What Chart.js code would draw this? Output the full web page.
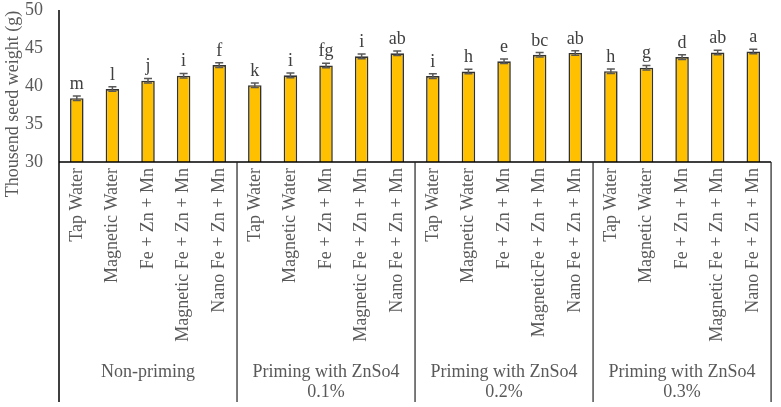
<!DOCTYPE html>
<html>
<head>
<meta charset="utf-8">
<script src="https://cdn.jsdelivr.net/npm/chart.js@4"></script>
<style>
  html, body { margin: 0; padding: 0; background: #fff; }
  #wrap { width: 781px; height: 407px; }
</style>
</head>
<body>
<div id="wrap"><canvas id="seedChart" width="781" height="407"></canvas></div>
<script>
const treatments = [
  'Tap Water', 'Magnetic Water', 'Fe + Zn + Mn', 'Magnetic Fe + Zn + Mn', 'Nano Fe + Zn + Mn',
  'Tap Water', 'Magnetic Water', 'Fe + Zn + Mn', 'Magnetic Fe + Zn + Mn', 'Nano Fe + Zn + Mn',
  'Tap Water', 'Magnetic Water', 'Fe + Zn + Mn', 'MagneticFe + Zn + Mn', 'Nano Fe + Zn + Mn',
  'Tap Water', 'Magnetic Water', 'Fe + Zn + Mn', 'Magnetic Fe + Zn + Mn', 'Nano Fe + Zn + Mn'
];
const groups = [
  ['Non-priming'],
  ['Priming with ZnSo4', '0.1%'],
  ['Priming with ZnSo4', '0.2%'],
  ['Priming with ZnSo4', '0.3%']
];
const groupSize = 5;
const seedWeight = [
  38.4, 39.6, 40.7, 41.35, 42.75,
  40.1, 41.4, 42.7, 43.9, 44.3,
  41.3, 41.9, 43.25, 44.1, 44.35,
  41.95, 42.4, 43.8, 44.4, 44.55
];
const errors = [
  0.3, 0.3, 0.3, 0.3, 0.3,
  0.3, 0.3, 0.3, 0.3, 0.3,
  0.3, 0.3, 0.3, 0.3, 0.3,
  0.3, 0.3, 0.3, 0.3, 0.3
];
const letters = [
  'm', 'l', 'j', 'i', 'f',
  'k', 'i', 'fg', 'i', 'ab',
  'i', 'h', 'e', 'bc', 'ab',
  'h', 'g', 'd', 'ab', 'a'
];
const yTicks = [30, 35, 40, 45, 50];

const FONT = 'Liberation Serif, Times New Roman, serif';
const TEXT = '#595959';

// error bars + letters over the bars
const barExtras = {
  id: 'barExtras',
  afterDatasetsDraw(chart) {
    const ctx = chart.ctx;
    const y = chart.scales.y;
    const meta = chart.getDatasetMeta(0);
    ctx.save();
    meta.data.forEach((bar, i) => {
      const top = y.getPixelForValue(seedWeight[i] + errors[i]);
      const bot = y.getPixelForValue(seedWeight[i] - errors[i]);
      ctx.strokeStyle = '#595959';
      ctx.lineWidth = 1.5;
      ctx.beginPath();
      ctx.moveTo(bar.x, top); ctx.lineTo(bar.x, bot);
      ctx.moveTo(bar.x - 4, top); ctx.lineTo(bar.x + 4, top);
      ctx.moveTo(bar.x - 4, bot); ctx.lineTo(bar.x + 4, bot);
      ctx.stroke();
      ctx.fillStyle = '#404040';
      ctx.font = '18px ' + FONT;
      ctx.textAlign = 'center';
      ctx.textBaseline = 'alphabetic';
      ctx.fillText(letters[i], bar.x, top - 7);
    });
    ctx.restore();
  }
};

// axis lines, group dividers, group names, y title
const frame = {
  id: 'frame',
  afterDraw(chart) {
    const ctx = chart.ctx;
    const area = chart.chartArea;
    const x = chart.scales.x;
    const bottom = 402;
    ctx.save();
    ctx.strokeStyle = '#000';
    ctx.lineWidth = 1.5;
    ctx.beginPath();
    ctx.moveTo(area.left, area.top); ctx.lineTo(area.left, bottom);
    ctx.moveTo(area.left, area.bottom); ctx.lineTo(area.right, area.bottom);
    ctx.stroke();

    const step = x.getPixelForValue(1) - x.getPixelForValue(0);
    ctx.lineWidth = 1.2;
    ctx.strokeStyle = '#222';
    for (let g = 1; g <= groups.length; g++) {
      const px = x.getPixelForValue(g * groupSize - 1) + step / 2;
      ctx.beginPath();
      ctx.moveTo(px, area.bottom); ctx.lineTo(px, bottom);
      ctx.stroke();
    }

    ctx.fillStyle = TEXT;
    ctx.font = '18px ' + FONT;
    ctx.textAlign = 'center';
    ctx.textBaseline = 'middle';
    groups.forEach((lines, g) => {
      const left = x.getPixelForValue(g * groupSize) - step / 2;
      const cx = left + step * groupSize / 2;
      lines.forEach((t, k) => ctx.fillText(t, cx, 372 + k * 20));
    });

    ctx.translate(13, 104);
    ctx.rotate(-Math.PI / 2);
    ctx.fillText('Thousend seed weight (g)', 0, 0);
    ctx.restore();
  }
};

const ctx = document.getElementById('seedChart').getContext('2d');
new Chart(ctx, {
  type: 'bar',
  data: {
    labels: treatments,
    datasets: [{
      data: seedWeight,
      backgroundColor: '#FFC000',
      borderColor: '#333',
      borderWidth: 1.6,
      borderSkipped: 'bottom',
      barPercentage: 0.38,
      categoryPercentage: 1.0,
    }],
  },
  options: {
    responsive: false,
    animation: false,
    layout: { padding: { top: 10, right: 5, left: 0, bottom: 0 } },
    plugins: {
      legend: { display: false },
      tooltip: { enabled: false },
    },
    scales: {
      x: {
        grid: { display: false, drawTicks: false },
        border: { display: false },
        ticks: {
          autoSkip: false,
          maxRotation: 90,
          minRotation: 90,
          padding: 6,
          color: TEXT,
          font: { family: FONT, size: 18 },
        },
        afterFit(scale) { scale.height = 245; },
      },
      y: {
        min: 30,
        max: 50,
        grid: { display: false, drawTicks: false },
        border: { display: false },
        afterBuildTicks(scale) { scale.ticks = yTicks.map(v => ({ value: v })); },
        ticks: {
          padding: 16,
          color: TEXT,
          font: { family: FONT, size: 18 },
        },
        afterFit(scale) {
          scale.width = 59;
          scale.paddingTop = 0;
          scale.paddingBottom = 0;
        },
      },
    },
  },
  plugins: [barExtras, frame],
});
</script>
</body>
</html>
